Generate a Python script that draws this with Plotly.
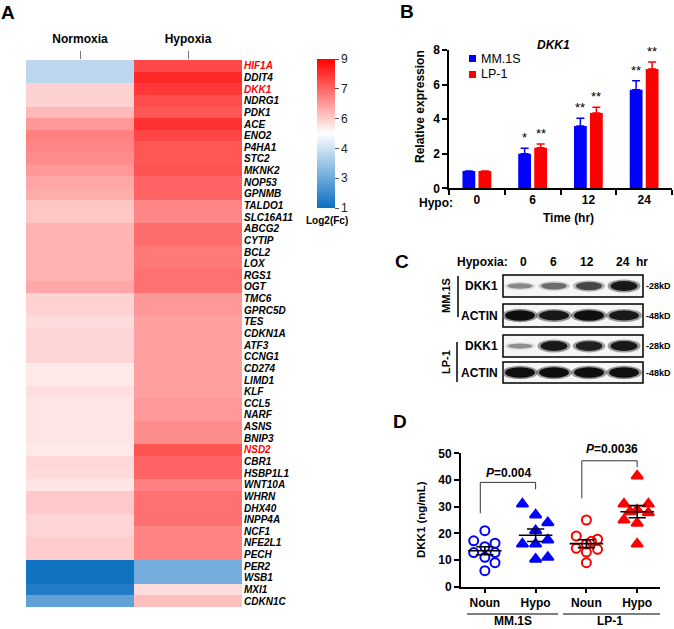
import numpy as np
import plotly.graph_objects as go

W, H = 674, 629
FONT = "Liberation Sans, Arial, sans-serif"


def px(x):
    return x / W


def py(y):
    return 1 - y / H


# ---------------- Panel A data (heatmap) ----------------
genes = ["HIF1A", "DDIT4", "DKK1", "NDRG1", "PDK1", "ACE", "ENO2", "P4HA1", "STC2", "MKNK2",
         "NOP53", "GPNMB", "TALDO1", "SLC16A11", "ABCG2", "CYTIP", "BCL2", "LOX", "RGS1", "OGT",
         "TMC6", "GPRC5D", "TES", "CDKN1A", "ATF3", "CCNG1", "CD274", "LIMD1", "KLF", "CCL5",
         "NARF", "ASNS", "BNIP3", "NSD2", "CBR1", "HSBP1L1", "WNT10A", "WHRN", "DHX40", "INPP4A",
         "NCF1", "NFE2L1", "PECH", "PER2", "WSB1", "MXI1", "CDKN1C"]
highlight_genes = ["HIF1A", "DKK1", "NSD2"]
conditions = ["Normoxia", "Hypoxia"]
normoxia = [3.9, 3.9, 5.7, 5.7, 6.1, 6.6, 7.0, 6.9, 6.8, 6.6, 6.4, 6.3, 5.9, 5.9, 6.2, 6.2, 6.2, 6.2,
            6.2, 6.4, 5.7, 5.7, 5.55, 5.65, 5.65, 5.65, 5.35, 5.35, 5.5, 5.4, 5.4, 5.4, 5.4, 5.35,
            5.6, 5.55, 5.4, 5.85, 5.85, 5.65, 5.65, 5.8, 5.8, 1.1, 1.1, 1.4, 2.4]
hypoxia = [7.85, 8.35, 8.1, 7.8, 7.65, 8.25, 7.9, 7.65, 7.65, 7.7, 7.45, 7.45, 6.9, 6.9, 7.3, 7.3,
           7.1, 7.1, 7.25, 7.25, 6.6, 6.6, 6.5, 6.5, 6.5, 6.5, 6.5, 6.5, 6.5, 6.6, 6.6, 6.8, 6.8,
           7.7, 7.45, 7.45, 7.0, 7.25, 7.25, 7.25, 6.95, 6.95, 6.95, 2.75, 2.75, 5.55, 6.0]
cbar_tickvals = [1, 2.6, 4.2, 5.8, 7.4, 9]
cbar_ticktext = ["1", "3", "4", "6", "7", "9"]

# ---------------- Panel B data (bars) ----------------
time_points = ["0", "6", "12", "24"]
mm1s_expr = [1.0, 2.0, 3.6, 5.7]
mm1s_err = [0.0, 0.32, 0.45, 0.52]
lp1_expr = [1.0, 2.35, 4.35, 6.9]
lp1_err = [0.0, 0.21, 0.34, 0.40]
mm1s_sig = ["", "*", "**", "**"]
lp1_sig = ["", "**", "**", "**"]

# ---------------- Panel C data (western blot band intensity) ----------------
blot_lanes = ["0", "6", "12", "24"]
mm1s_dkk1_band = [0.35, 0.5, 0.7, 0.95]
mm1s_actin_band = [1.0, 0.95, 1.0, 0.95]
lp1_dkk1_band = [0.3, 0.95, 0.9, 0.95]
lp1_actin_band = [1.0, 1.0, 1.0, 1.0]

# ---------------- Panel D data (ELISA) ----------------
d_groups = ["Noun", "Hypo", "Noun", "Hypo"]
mm1s_noun = [21.0, 17.2, 16.3, 15.0, 12.8, 12.8, 11.0, 9.0, 6.0]
mm1s_hypo = [31.0, 26.9, 24.0, 21.0, 17.5, 16.0, 16.0, 11.0, 10.3]
lp1_noun = [25.0, 19.0, 17.8, 17.0, 16.0, 14.4, 14.0, 13.0, 9.0]
lp1_hypo = [41.5, 31.0, 31.0, 28.8, 28.1, 27.7, 25.0, 23.8, 16.0]
p_values = ["0.004", "0.0036"]

# jitter (style) for the dot plot
jit_mn = [0, -0.22, 0.2, 0, -0.22, 0.2, 0, 0.2, 0]
jit_mh = [-0.26, 0, 0.24, 0, 0.24, -0.26, 0, 0.24, 0]
jit_ln = [0, -0.2, 0.22, 0.1, 0, -0.2, 0.22, 0, 0]
jit_lh = [0, -0.26, 0.22, 0, -0.14, 0.22, -0.26, 0, 0]

BLUE = "#0000ff"
RED = "#ff0000"

fig = go.Figure()

# ---- Heatmap ----
z = [[n, h] for n, h in zip(normoxia, hypoxia)]
fig.add_trace(go.Heatmap(
    z=z, x=conditions, y=genes, xaxis="x", yaxis="y",
    zmin=1, zmax=9,
    colorscale=[[0, "#0a6fc0"], [0.5, "#ffffff"], [1, "#ff0000"]],
    colorbar=dict(
        x=px(317), xanchor="left", y=py(133.5), yanchor="middle",
        len=149 / H, lenmode="fraction", thickness=18, thicknessmode="pixels",
        outlinewidth=0, ticks="outside", ticklen=4, tickcolor="#555",
        tickvals=cbar_tickvals, ticktext=cbar_ticktext,
        tickfont=dict(family=FONT, size=12, color="#222"), xpad=0, ypad=0,
    ),
    hoverinfo="skip",
))

gene_text = [f'<span style="color:#ff0000">{g}</span>' if g in highlight_genes else g for g in genes]

# ---- Bars ----
fig.add_trace(go.Bar(
    x=time_points, y=mm1s_expr, name="MM.1S", marker=dict(color=BLUE, line=dict(width=0)),
    error_y=dict(type="data", array=mm1s_err, arrayminus=[0] * 4, symmetric=False,
                 color=BLUE, thickness=1.5, width=4),
    xaxis="x2", yaxis="y2", showlegend=False))
fig.add_trace(go.Bar(
    x=time_points, y=lp1_expr, name="LP-1", marker=dict(color=RED, line=dict(width=0)),
    error_y=dict(type="data", array=lp1_err, arrayminus=[0] * 4, symmetric=False,
                 color=RED, thickness=1.5, width=4),
    xaxis="x2", yaxis="y2", showlegend=False))

# ---- Dot plot ----
groups = [(mm1s_noun, jit_mn, 1, "circle-open", BLUE),
          (mm1s_hypo, jit_mh, 2, "triangle-up", BLUE),
          (lp1_noun, jit_ln, 3, "circle-open", RED),
          (lp1_hypo, jit_lh, 4, "triangle-up", RED)]
for vals, jit, xc, sym, col in groups:
    fig.add_trace(go.Scatter(
        x=[xc + j for j in jit], y=vals, mode="markers", xaxis="x3", yaxis="y3",
        marker=dict(symbol=sym, size=10 if "triangle" in sym else 9, color=col,
                    line=dict(width=2, color=col)),
        showlegend=False, hoverinfo="skip"))
    m = float(np.mean(vals))
    s = float(np.std(vals, ddof=1) / np.sqrt(len(vals)))
    lx = [xc - 0.33, xc + 0.33, None, xc, xc, None, xc - 0.17, xc + 0.17, None, xc - 0.17, xc + 0.17]
    ly = [m, m, None, m - s, m + s, None, m - s, m - s, None, m + s, m + s]
    fig.add_trace(go.Scatter(x=lx, y=ly, mode="lines", line=dict(color="black", width=1.6),
                             xaxis="x3", yaxis="y3", showlegend=False, hoverinfo="skip"))

shapes = []
annotations = []


def ann(text, x, y, size=12, bold=True, italic=False, color="black", angle=0,
        xanchor="center", yanchor="middle"):
    annotations.append(dict(
        text=text, x=px(x), y=py(y), xref="paper", yref="paper", showarrow=False,
        font=dict(family=FONT, size=size, color=color, weight="bold" if bold else "normal",
                  style="italic" if italic else "normal"),
        textangle=angle, xanchor=xanchor, yanchor=yanchor))


def pline(x0, y0, x1, y1, width=1.2, color="black"):
    shapes.append(dict(type="line", xref="paper", yref="paper", x0=px(x0), y0=py(y0),
                       x1=px(x1), y1=py(y1), line=dict(color=color, width=width)))


# Panel letters
ann("A", 8, 12, size=19)
ann("B", 407, 11, size=19)
ann("C", 402, 261, size=19)
ann("D", 400, 421, size=19)

# Colorbar title
ann("Log2(Fc)", 327, 221, size=10)

# Panel B texts
ann("<i>DKK1</i>", 553, 45, size=12)
ann("Relative expression", 420, 107, size=12, angle=-90)
ann("Hypo:", 436, 203, size=12)
ann("Time (hr)", 568, 218, size=12)
# legend
shapes.append(dict(type="rect", xref="paper", yref="paper", x0=px(469), x1=px(476),
                   y0=py(55), y1=py(62), fillcolor=BLUE, line=dict(width=0)))
shapes.append(dict(type="rect", xref="paper", yref="paper", x0=px(469), x1=px(476),
                   y0=py(71), y1=py(78), fillcolor=RED, line=dict(width=0)))
ann("MM.1S", 479, 58.5, size=12.5, bold=False, xanchor="left")
ann("LP-1", 479, 74.5, size=12.5, bold=False, xanchor="left")
# significance stars (x given as category index so autorange is unaffected)
for i in range(len(time_points)):
    for vals, errs, sig, shift in [(mm1s_expr, mm1s_err, mm1s_sig, -8), (lp1_expr, lp1_err, lp1_sig, 8)]:
        if sig[i]:
            annotations.append(dict(
                text=sig[i], x=i, y=vals[i] + errs[i], xref="x2", yref="y2", xshift=shift,
                yshift=1, showarrow=False, yanchor="bottom",
                font=dict(family=FONT, size=13, color="black")))

# Panel C: western blot
lane_x = [520, 554, 589, 624]
ann("Hypoxia:", 482, 262, size=12)
for lx_, lab in zip([523, 553, 587, 623], blot_lanes):
    ann(lab, lx_, 262, size=12)
ann("hr", 642, 262, size=12)

blot_rows = [("DKK1", 275, 297, mm1s_dkk1_band, 24, "-28kD"),
             ("ACTIN", 304, 327, mm1s_actin_band, 27, "-48kD"),
             ("DKK1", 335, 357, lp1_dkk1_band, 24, "-28kD"),
             ("ACTIN", 362, 383, lp1_actin_band, 27, "-48kD")]
for label, y0, y1, bands, bw, kd in blot_rows:
    shapes.append(dict(type="rect", xref="paper", yref="paper", x0=px(503), x1=px(643),
                       y0=py(y0), y1=py(y1), fillcolor="#f6f6f6",
                       line=dict(color="black", width=1.5)))
    yc = (y0 + y1) / 2
    for xc, v in zip(lane_x, bands):
        th = 3 + 7.5 * v
        w = bw + 3 * v
        g = int(200 - 185 * v)
        gh = min(255, g + 70)
        shapes.append(dict(type="circle", xref="paper", yref="paper",
                           x0=px(xc - w / 2 - 3), x1=px(xc + w / 2 + 3),
                           y0=py(yc - th / 2 - 1.5), y1=py(yc + th / 2 + 1.5),
                           fillcolor=f"rgb({gh},{gh},{gh})", opacity=0.6, line=dict(width=0)))
        shapes.append(dict(type="circle", xref="paper", yref="paper",
                           x0=px(xc - w / 2), x1=px(xc + w / 2),
                           y0=py(yc - th / 2), y1=py(yc + th / 2),
                           fillcolor=f"rgb({g},{g},{g})", line=dict(width=0)))
    ann(label, 500, yc, size=12, xanchor="right")
    ann(kd, 644, yc, size=9, xanchor="left")
pline(458, 276, 458, 317, width=1.5)
pline(457, 342, 457, 382, width=1.5)
ann("MM.1S", 446, 296, size=11, angle=-90)
ann("LP-1", 446, 362, size=11, angle=-90)

# Panel D texts
ann("DKK1 (ng/mL)", 421, 520, size=11.5, angle=-90)
pline(467, 614, 558, 614, width=1.2)
pline(563, 614, 660, 614, width=1.2)
ann("MM.1S", 513, 621, size=12)
ann("LP-1", 610, 621, size=12)
# brackets
for (xl, xr, ytop, yl, yr), pv, (tx, ty) in zip(
        [(0.91, 2.0, 39.1, 27.5, 36.5), (2.91, 4.0, 47.2, 33.1, 44.8)], p_values,
        [(508, 472.5), (612, 449)]):
    shapes.append(dict(type="path", xref="x3", yref="y3",
                       path=f"M {xl},{yl} L {xl},{ytop} L {xr},{ytop} L {xr},{yr}",
                       line=dict(color="#333", width=1)))
    ann(f"<i>P</i>=" + pv, tx, ty, size=12)

axis_common = dict(showgrid=False, zeroline=False, automargin=False)

fig.update_layout(
    width=W, height=H, margin=dict(l=0, r=0, t=0, b=0),
    template="none", paper_bgcolor="white", plot_bgcolor="white",
    font=dict(family=FONT, color="black"),
    barmode="group", bargap=0.426, bargroupgap=0.2,
    showlegend=False,
    xaxis=dict(domain=[px(26), px(242)], anchor="y", side="top", type="category",
               ticks="outside", ticklen=8, tickcolor="#777", tickwidth=1, showline=False,
               ticklabelstandoff=3,
               tickfont=dict(family=FONT, size=12, weight="bold"), **axis_common),
    yaxis=dict(domain=[py(607), py(60)], anchor="x", side="right", autorange="reversed",
               type="category", tickvals=genes, ticktext=gene_text, ticks="",
               ticklabelstandoff=1, showline=False,
               tickfont=dict(family=FONT, size=10, weight="bold", style="italic"), **axis_common),
    xaxis2=dict(domain=[px(449), px(672)], anchor="y2", type="category", tickson="boundaries",
                range=[-0.5, 3.5], ticks="outside", ticklen=5, tickwidth=1.5, showline=True,
                linewidth=1.5, linecolor="black", tickcolor="black",
                tickfont=dict(family=FONT, size=12, weight="bold"), **axis_common),
    yaxis2=dict(domain=[py(188.3), py(50)], anchor="x2", range=[0, 8], dtick=2,
                ticks="outside", ticklen=5, tickwidth=1.5, showline=True, linewidth=1.5,
                linecolor="black", tickcolor="black",
                tickfont=dict(family=FONT, size=12, weight="bold"), **axis_common),
    xaxis3=dict(domain=[px(461), px(660)], anchor="y3", range=[0.53, 4.45],
                tickvals=[1, 2, 3, 4], ticktext=d_groups,
                ticks="outside", ticklen=4, tickwidth=1.5, showline=True, linewidth=2,
                linecolor="black", tickcolor="black",
                tickfont=dict(family=FONT, size=12, weight="bold"), **axis_common),
    yaxis3=dict(domain=[py(586.7), py(453.3)], anchor="x3", range=[0, 50], dtick=10,
                ticks="outside", ticklen=5, tickwidth=1.5, showline=True, linewidth=2,
                linecolor="black", tickcolor="black",
                tickfont=dict(family=FONT, size=12, weight="bold"), **axis_common),
    shapes=shapes, annotations=annotations,
)

fig.write_html("out.html", config={"displayModeBar": False},
               post_script="document.body.style.margin='0px';document.body.style.padding='0px';")
